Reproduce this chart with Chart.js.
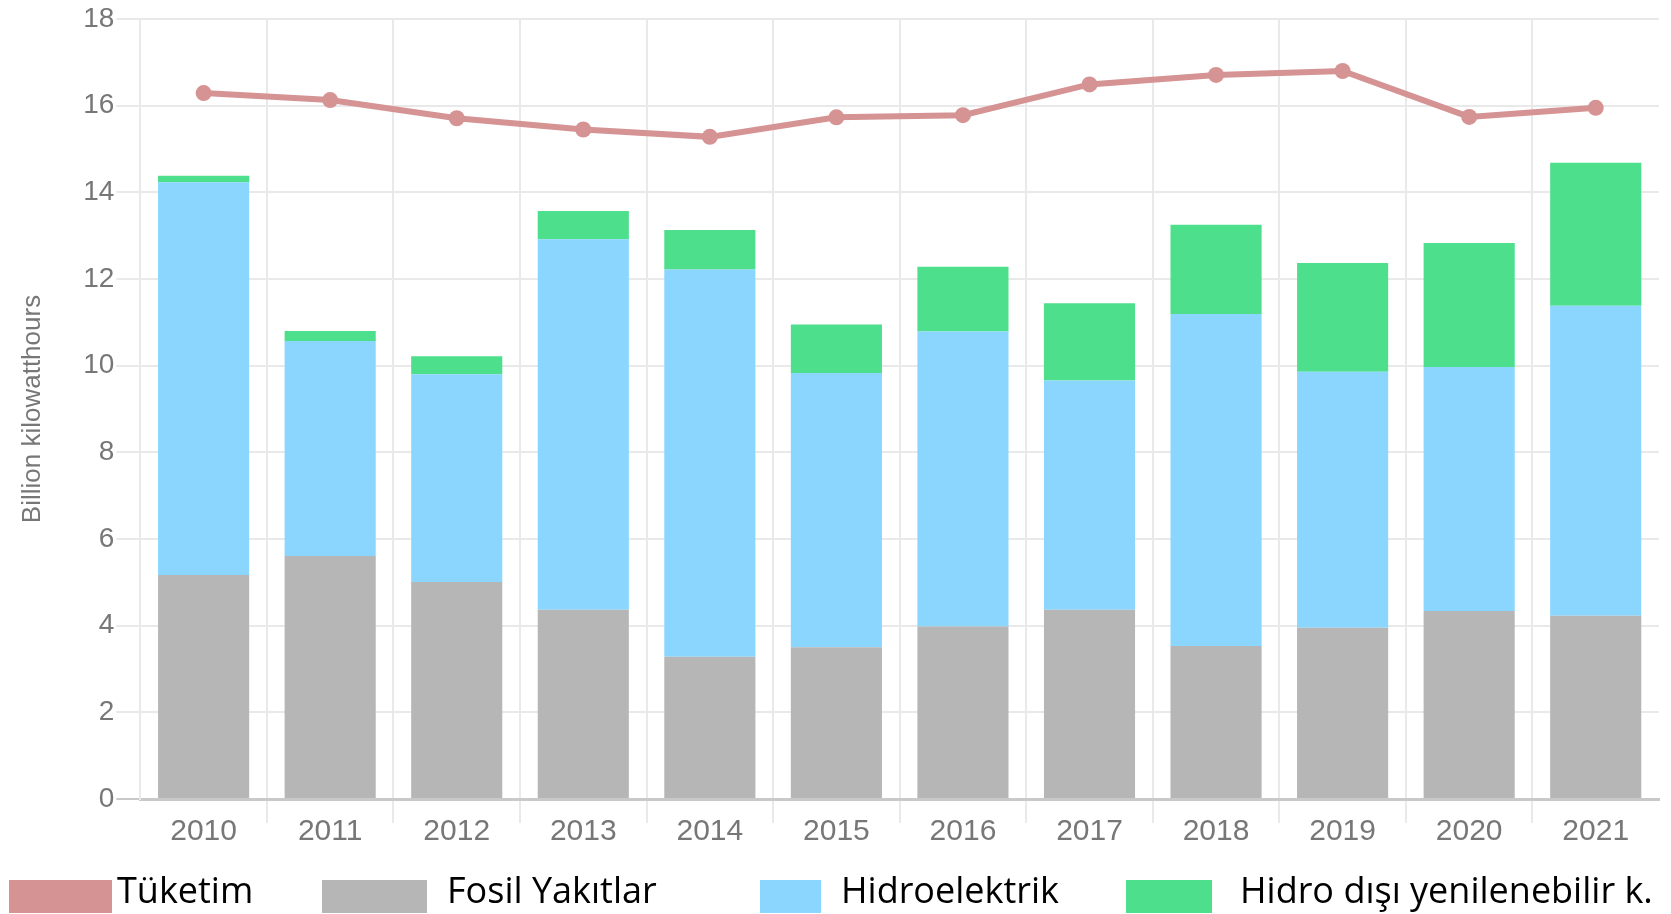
<!DOCTYPE html>
<html>
<head>
<meta charset="utf-8">
<script src="https://cdn.jsdelivr.net/npm/chart.js@4"></script>
<style>
  html, body { margin: 0; padding: 0; background: #fff; }
  #wrap { width: 1671px; height: 914px; position: relative; overflow: hidden; }
  #legend { position: absolute; left: 0; top: 0; width: 1671px; height: 914px; pointer-events: none; }
  .lg-box { position: absolute; top: 880px; height: 33px; }
  .lg-text { position: absolute; top: 872px; line-height: 36px; font-family: 'Open Sans', sans-serif; font-size: 36px; color: #000; white-space: nowrap; }
</style>
</head>
<body>
<div id="wrap"><canvas id="c"></canvas><div id="legend"></div></div>
<script>
const years = ['2010','2011','2012','2013','2014','2015','2016','2017','2018','2019','2020','2021'];
const tuketim = [16.29, 16.13, 15.71, 15.45, 15.28, 15.73, 15.78, 16.49, 16.71, 16.80, 15.74, 15.95];
const fosil = [5.17, 5.61, 5.01, 4.37, 3.28, 3.50, 3.98, 4.37, 3.53, 3.95, 4.34, 4.23];
const hidro = [9.06, 4.96, 4.79, 8.55, 8.94, 6.33, 6.81, 5.29, 7.66, 5.91, 5.63, 7.15];
const yenilenebilir = [0.15, 0.23, 0.42, 0.65, 0.91, 1.12, 1.49, 1.78, 2.06, 2.51, 2.86, 3.30];
const seriesNames = ['Tüketim', 'Fosil Yakıtlar', 'Hidroelektrik', 'Hidro dışı yenilenebilir k.'];
const yTicks = [0, 2, 4, 6, 8, 10, 12, 14, 16, 18];
const yTitle = 'Billion kilowatthours';

const cPink = '#D59393', cGray = '#B6B6B6', cBlue = '#8AD6FE', cGreen = '#4DDF8C';
const yTickFont = { family: 'Liberation Sans, Arial, sans-serif', size: 28 };
const xTickFont = { family: 'Liberation Sans, Arial, sans-serif', size: 30 };

const chart = new Chart(document.getElementById('c'), {
  data: {
    labels: years,
    datasets: [
      { type: 'line', label: seriesNames[0], data: tuketim, stack: 'line', order: 0,
        borderColor: cPink, backgroundColor: cPink, borderWidth: 6, tension: 0,
        pointRadius: 8, pointBackgroundColor: cPink, pointBorderWidth: 0 },
      { type: 'bar', label: seriesNames[1], data: fosil, stack: 'bars', order: 1, backgroundColor: cGray, borderWidth: 0 },
      { type: 'bar', label: seriesNames[2], data: hidro, stack: 'bars', order: 1, backgroundColor: cBlue, borderWidth: 0 },
      { type: 'bar', label: seriesNames[3], data: yenilenebilir, stack: 'bars', order: 1, backgroundColor: cGreen, borderWidth: 0 }
    ]
  },
  options: {
    responsive: true,
    maintainAspectRatio: false,
    animation: false,
    layout: { padding: { left: 0, right: 12, top: 19, bottom: 73 } },
    scales: {
      x: {
        stacked: true,
        grid: {
          offset: true,
          lineWidth: 2,
          tickLength: 24,
          color: (c) => c.type !== 'tick' ? 'rgba(0,0,0,0)' : '#e9e9e9',
          tickColor: (c) => (c.type !== 'tick' || c.index === 0) ? 'rgba(0,0,0,0)' : '#e9e9e9'
        },
        border: { color: '#c9c9c9', width: 3 },
        ticks: { font: xTickFont, color: '#777', padding: -9, maxRotation: 0, autoSkip: false }
      },
      y: {
        stacked: true,
        min: 0, max: 18,
        afterBuildTicks: (scale) => { scale.ticks = yTicks.map(v => ({ value: v })); },
        grid: {
          lineWidth: 2,
          tickLength: 24,
          color: (c) => (c.tick && c.tick.value === 0) ? '#c9c9c9' : '#e9e9e9'
        },
        border: { color: '#e9e9e9', width: 2 },
        ticks: { font: yTickFont, color: '#777', padding: 2 },
        title: { display: true, text: yTitle, color: '#777',
          font: { family: 'Liberation Sans, Arial, sans-serif', size: 26 },
          padding: { top: 17, bottom: 33 } }
      }
    },
    plugins: {
      tooltip: { enabled: false },
      legend: { display: false }
    }
  }
});

// HTML legend built from the chart's datasets
const legendBoxes = [ { left: 9, width: 103 }, { left: 322, width: 105 }, { left: 760, width: 61 }, { left: 1126, width: 86 } ];
const legendTextLeft = [117, 447, 841, 1240];
const legendEl = document.getElementById('legend');
chart.data.datasets.forEach((ds, i) => {
  const box = document.createElement('div');
  box.className = 'lg-box';
  box.style.left = legendBoxes[i].left + 'px';
  box.style.width = legendBoxes[i].width + 'px';
  box.style.background = ds.backgroundColor;
  legendEl.appendChild(box);
  const t = document.createElement('span');
  t.className = 'lg-text';
  t.style.left = legendTextLeft[i] + 'px';
  t.textContent = ds.label;
  legendEl.appendChild(t);
});
</script>
</body>
</html>
